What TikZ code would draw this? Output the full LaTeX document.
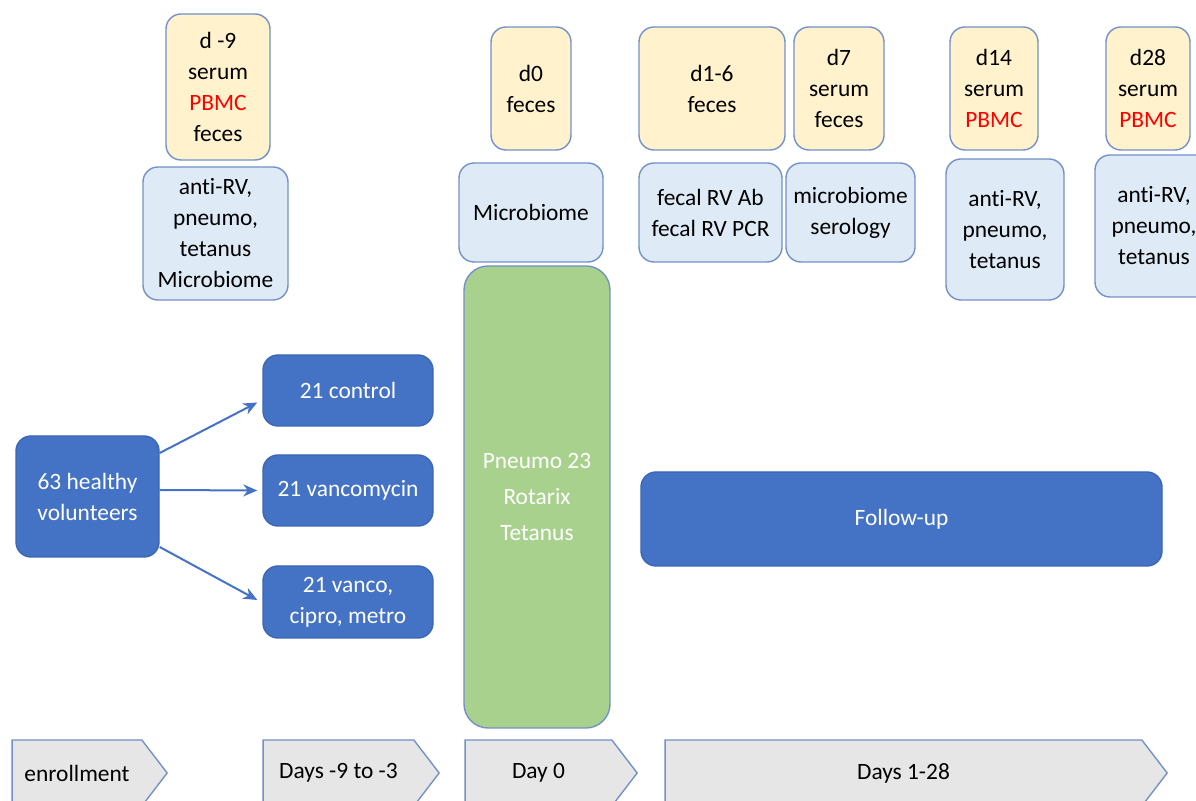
\documentclass[tikz,border=0pt]{standalone}
\usepackage{fontspec}
\setmainfont{Carlito}[Ligatures=NoCommon]
\usetikzlibrary{shapes.symbols,arrows.meta}

\definecolor{probe}{HTML}{FFF2CC}
\definecolor{analyse}{HTML}{DEEBF7}
\definecolor{dunkel}{HTML}{4472C4}
\definecolor{dunkelrand}{HTML}{3A66B4}
\definecolor{impf}{HTML}{A9D18E}
\definecolor{phase}{HTML}{E7E6E6}
\definecolor{rand}{HTML}{7391C8}

\begin{document}
\begin{tikzpicture}[x=0.5pt, y=-0.5pt,
        font=\fontsize{11.7}{15.5}\selectfont,
        box/.style={draw=rand, line width=0.7pt, rounded corners=7.5pt,
            align=center, inner sep=0pt},
        sz/.style 2 args={minimum width=#1*0.5pt, minimum height=#2*0.5pt},
        probe/.style={box, fill=probe},
        analyse/.style={box, fill=analyse},
        gruppe/.style={box, fill=dunkel, draw=dunkelrand, text=white},
        phase/.style={shape=signal, signal to=east, signal pointer angle=105,
            draw=rand, fill=phase, line width=0.7pt, inner sep=0pt},
        pfeil/.style={draw=dunkel, line width=1pt, -{Stealth[length=7pt,width=6pt]}}
        ]
    \useasboundingbox (0,0) rectangle (1196,801);

    % Proben
    \node (p0)  [probe, sz={104}{146}] at (218,87)    {d -9\\serum\\\textcolor{red}{PBMC}\\feces};
    \node (p1)  [probe, sz={80}{123}]  at (531,88.5)  {d0\\feces};
    \node (p2)  [probe, sz={146}{123}] at (712,88.5)  {d1-6\\feces};
    \node (p3)  [probe, sz={90}{123}]  at (839,88.5)  {d7\\serum\\feces};
    \node (p4)  [probe, sz={88}{123}]  at (994,88.5)  {d14\\serum\\\textcolor{red}{PBMC}};
    \node (p5)  [probe, sz={84}{123}]  at (1148,88.5) {d28\\serum\\\textcolor{red}{PBMC}};

    % Analysen
    \node (a0)  [analyse, sz={145}{133}] at (215.5,233.5) {anti-RV,\\pneumo,\\tetanus\\Microbiome};
    \node (a1)  [analyse, sz={144}{99}]  at (531,212.5)   {Microbiome};
    \node (a2)  [analyse, sz={143}{99}]  at (710.5,212.5) {fecal RV Ab\\fecal RV PCR};
    \node (a3)  [analyse, sz={129}{99}]  at (850.5,212.5) {microbiome\\serology};
    \node (a4)  [analyse, sz={118}{141}] at (1005,229.5)  {anti-RV,\\pneumo,\\tetanus};
    \node (a5)  [analyse, sz={118}{142}] at (1154,226)    {anti-RV,\\pneumo,\\tetanus};

    % Gruppen
    \node (vol) [gruppe, sz={143}{121}] at (87.5,496.5) {63 healthy\\volunteers};
    \node (ctl) [gruppe, sz={170}{71}]  at (348,390.5)  {21 control};
    \node (van) [gruppe, sz={170}{71}]  at (348,490.5)  {21 vancomycin};
    \node (vcm) [gruppe, sz={170}{72}]  at (348,602)    {21 vanco,\\cipro, metro};
    \node (vac) [box, fill=impf, text=white, rounded corners=12pt, sz={146}{462},
                 font=\fontsize{11.7}{18}\selectfont] at (537,497) {Pneumo 23\\Rotarix\\Tetanus};
    \node (fup) [gruppe, sz={521}{94}]  at (901.5,519)  {Follow-up};

    \draw [pfeil] ([yshift=21.75pt]vol.east)  -- ([xshift=-2.5pt,yshift=-6pt]ctl.west);
    \draw [pfeil] ([yshift=3.25pt]vol.east)   -- ([xshift=-2.5pt]van.west);
    \draw [pfeil] ([yshift=-25.25pt]vol.east) -- ([xshift=-2.5pt,yshift=1pt]vcm.west);

    % Zeitachse
    \node (t0) [phase, sz={155}{66}] at (77,773)    {enrollment};
    \node (t1) [phase, sz={176}{66}] at (338.5,773) {Days -9 to -3};
    \node (t2) [phase, sz={172}{66}] at (538.5,773) {Day 0};
    \node (t3) [phase, sz={502}{66}] at (903.5,773) {Days 1-28};
\end{tikzpicture}
\end{document}
